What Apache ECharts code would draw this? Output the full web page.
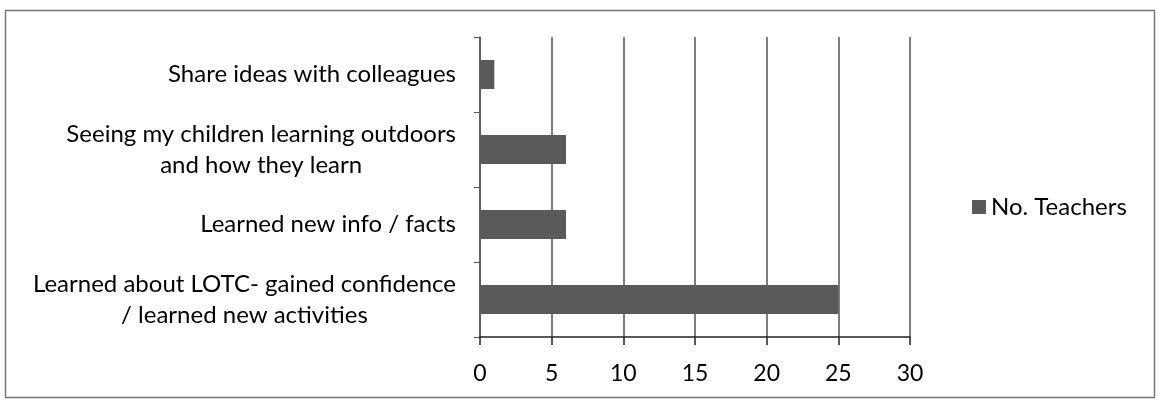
<!DOCTYPE html>
<html>
<head>
<meta charset="utf-8">
<script src="https://cdn.jsdelivr.net/npm/echarts@6/dist/echarts.min.js"></script>
<style>
  html, body { margin: 0; padding: 0; background: #fff; }
  #chart { width: 1161px; height: 403px; }
</style>
</head>
<body>
<div id="chart"></div>
<script>
// Categories listed bottom-to-top (ECharts category y axis starts at the bottom)
const categories = [
  'Learned about LOTC- gained confidence\n/ learned new activities',
  'Learned new info / facts',
  'Seeing my children learning outdoors\nand how they learn',
  'Share ideas with colleagues'
];
const teachers = [25, 6, 6, 1];
const seriesName = 'No. Teachers';
const xTicks = { min: 0, max: 30, interval: 5 };

const FONT = 'Lato, "Noto Sans", sans-serif';

const chart = echarts.init(document.getElementById('chart'));
chart.setOption({
  backgroundColor: '#fff',
  animation: false,
  textStyle: { fontFamily: FONT },
  graphic: [{
    type: 'rect',
    shape: { x: 5.5, y: 10.5, width: 1149, height: 387 },
    style: { fill: 'none', stroke: '#777', lineWidth: 1.5 },
    silent: true
  }],
  grid: { left: 480, right: 251, top: 37, bottom: 66 },
  legend: {
    data: [seriesName],
    orient: 'vertical',
    left: 967,
    top: 190,
    icon: 'rect',
    itemWidth: 14,
    itemHeight: 14,
    itemGap: 6,
    textStyle: { fontSize: 24, color: '#000', fontFamily: FONT }
  },
  xAxis: {
    type: 'value',
    min: xTicks.min,
    max: xTicks.max,
    interval: xTicks.interval,
    axisLine: { show: true, lineStyle: { color: '#222', width: 1.5 } },
    axisTick: { show: true, length: 8, lineStyle: { color: '#222', width: 1.5 } },
    axisLabel: { fontSize: 23, color: '#000', margin: 25 },
    splitLine: { show: true, lineStyle: { color: '#555', width: 1.5 } }
  },
  yAxis: {
    type: 'category',
    data: categories,
    axisLine: { show: true, lineStyle: { color: '#555', width: 1.5 } },
    axisTick: { show: true, length: 6, lineStyle: { color: '#555' } },
    axisLabel: {
      margin: 24,
      color: '#000',
      fontSize: 24,
      lineHeight: 31,
      formatter: function (v) {
        return v.split('\n').map(function (l) { return '{c|' + l + '}'; }).join('\n');
      },
      rich: {
        c: { align: 'center', fontSize: 24, lineHeight: 31, color: '#000', fontFamily: FONT }
      }
    }
  },
  series: [{
    name: seriesName,
    type: 'bar',
    data: teachers,
    barWidth: 29,
    itemStyle: { color: '#5a5a5a' }
  }]
});
</script>
</body>
</html>
